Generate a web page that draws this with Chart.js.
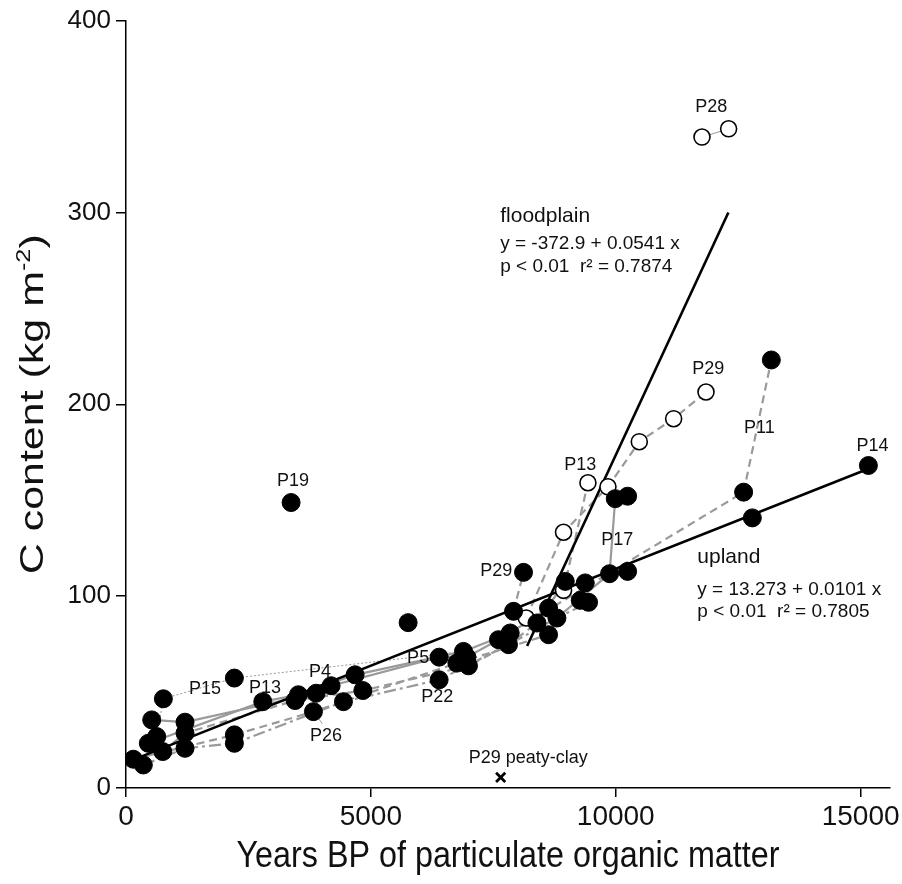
<!DOCTYPE html>
<html><head><meta charset="utf-8">
<script src="https://cdn.jsdelivr.net/npm/chart.js@4.4.1/dist/chart.umd.min.js"></script>
<style>html,body{margin:0;padding:0;background:#fff;}canvas{display:block}</style>
</head><body>
<canvas id="c" width="902" height="884"></canvas>
<script>
// ---- axes ----
const xTicks = [0, 5000, 10000, 15000];
const yTicks = [0, 100, 200, 300, 400];
const xTitle = 'Years BP of particulate organic matter';
const yTitleMain = 'C content (kg m';
const yTitleSup = '-2';
const yTitleEnd = ')';

// ---- upland profiles (filled points) ----
const filledAge = [150,354,456,525,627,750,763,1205,1205,1205,2213,2213,2213,2793,3371,3453,3520,3827,3882,4188,4440,4678,4836,5761,6394,6394,6891,6756,6993,6960,7606,7845,7810,7913,8117,8391,8628,8799,8628,8969,9377,9275,9445,9874,10242,9990,10242,12611,12789,13177,15159];
const filledC   = [15,12,23.3,35.5,26.8,19,46.5,34.3,28.6,20.7,57.3,27.7,23.3,45,148.8,45.6,48.6,39.8,49.4,53.3,45,59,50.8,86.2,68.2,56.4,71.2,65.1,63.7,68.2,77.3,80.8,74.7,92.1,112.4,86,93.8,88.6,79.9,107.7,106.9,97.8,96.8,111.7,112.9,150.8,152.1,154.2,140.8,223.1,168.1];

// ---- floodplain profiles (open points) ----
const openAge = [8172,8934,8934,9432,9841,10481,11182,11843,11761,12305];
const openC   = [88.6,103,133.3,159.1,157,180.5,192.5,206.4,339.3,343.6];

// ---- P29 peaty-clay ----
const peatyAge = [7650];
const peatyC   = [5.5];

// ---- profile connecting lines ----
const p15Age = [627,763,2213,6891];            const p15C = [26.8,46.5,57.3,71.2];
const p13uAge = [456,2793,3520,4678,6891,7845,8628]; const p13uC = [23.3,45,48.6,59,71.2,80.8,93.8];
const p4Age = [525,1205,3882,4188,6394,6960,7606];    const p4C = [35.5,34.3,49.4,53.3,68.2,68.2,77.3];
const p5Age = [750,1205,3453,4836,6993,7810,8391,8969]; const p5C = [19,28.6,45.6,50.8,63.7,74.7,86,107.7];
const p22Age = [354,1205,2213,4440,6394,7810,8799,9445]; const p22C = [12,20.7,23.3,45,56.4,74.7,88.6,96.8];
const p26Age = [150,2213,3827,6756,8628];      const p26C = [15,27.7,39.8,65.1,79.9];
const p17Age = [8799,9874,9990];               const p17C = [88.6,111.7,150.8];
const p29uAge = [7913,8117];                   const p29uC = [92.1,112.4];
const p11Age = [7606,12611,13177];             const p11C = [77.3,154.2,223.1];
const p29fAge = [8172,8934,9841,10481,11182,11843]; const p29fC = [88.6,133.3,157,180.5,192.5,206.4];
const p13fAge = [8934,9432];                   const p13fC = [103,159.1];
const p28Age = [11761,12305];                  const p28C = [339.3,343.6];
const p26LeadAge = [3827,4010];                const p26LeadC = [39.8,33.5];

// ---- regression lines ----
const uplandFitAge = [320,15160]; const uplandFitC = [16.5,166.4];
const floodFitAge = [8190,12300]; const floodFitC = [74,300];

// ---- annotation texts ----
const labelText = ['P28','floodplain','y = -372.9 + 0.0541 x','p < 0.01  r\u00b2 = 0.7874','P29','P11','P14','P13','P19','P17','upland','y = 13.273 + 0.0101 x','p < 0.01  r\u00b2 = 0.7805','P29','P15','P13','P4','P5','P22','P26','P29 peaty-clay'];
const labelAge  = [11952,7641,7641,7641,11890,12932,15241,9275,3412,10031,11666,11666,11666,7559,1614,2840,3963,5965,6354,4086,8213];
const labelC    = [355,298.2,283.6,271.5,218.3,187.5,178.2,168.1,159.8,129.1,120.1,103.4,91.9,113.3,51.7,52.2,60.6,67.9,47.5,27.3,15.7];

const pts = (xs, ys) => xs.map((x, i) => ({x, y: ys[i]}));
const GREY = '#9a9a9a';
function prof(xs, ys, dash, width) {
  return {type:'line', data: pts(xs, ys), borderColor: GREY, borderWidth: width || 2.2, borderDash: dash || [],
    pointRadius: 0, fill: false, tension: 0, order: 5};
}
const FONT = '"Liberation Sans", Arial, sans-serif';

const labelPlugin = {
  id: 'labels',
  beforeDraw(chart) {
    const c = chart.ctx; c.save(); c.fillStyle = '#fff'; c.fillRect(0,0,chart.width,chart.height); c.restore();
  },
  afterDatasetsDraw(chart) {
    const c = chart.ctx, xs = chart.scales.x, ys = chart.scales.y;
    c.save();
    c.fillStyle = '#111';
    c.textBaseline = 'middle';
    labelText.forEach((t, i) => {
      const px = xs.getPixelForValue(labelAge[i]), py = ys.getPixelForValue(labelC[i]);
      let size = 18, align = 'center';
      if (t === 'floodplain' || t === 'upland') { size = 21; align = 'left'; }
      else if (t.startsWith('y =') || t.startsWith('p <')) { size = 19; align = 'left'; }
      c.font = size + 'px ' + FONT;
      c.textAlign = align;
      c.fillText(t, px, py);
    });
    c.restore();
  },
  afterDraw(chart) {
    const c = chart.ctx, area = chart.chartArea;
    // x title (condensed look)
    c.save();
    c.fillStyle = '#111';
    c.font = '37px ' + FONT;
    c.textAlign = 'center'; c.textBaseline = 'alphabetic';
    const w = c.measureText(xTitle).width, sx = 543 / w;
    c.translate((area.left + area.right) / 2, 867);
    c.scale(sx, 1);
    c.fillText(xTitle, 0, 0);
    c.restore();
    // y title with superscript
    c.save();
    c.fillStyle = '#111';
    c.translate(43, (area.top + area.bottom) / 2);
    c.rotate(-Math.PI / 2);
    const f1 = '34px ' + FONT, f2 = '20px ' + FONT;
    c.font = f1; const wa = c.measureText(yTitleMain).width, wb = c.measureText(yTitleEnd).width;
    c.font = f2; const ws = c.measureText(yTitleSup).width;
    const tot = wa + ws + wb, ysx = 340 / tot;
    c.scale(ysx, 1);
    let x0 = -tot / 2;
    c.textBaseline = 'alphabetic'; c.textAlign = 'left';
    c.font = f1; c.fillText(yTitleMain, x0, 0);
    c.font = f2; c.fillText(yTitleSup, x0 + wa, -13);
    c.font = f1; c.fillText(yTitleEnd, x0 + wa + ws, 0);
    c.restore();
  }
};

new Chart(document.getElementById('c'), {
  data: {
    datasets: [
      {type:'scatter', data: pts(filledAge, filledC), pointRadius: 9, pointHoverRadius: 9, pointBackgroundColor:'#000', pointBorderColor:'#000', pointBorderWidth:1, order: 0},
      {type:'scatter', data: pts(openAge, openC), pointRadius: 8, pointHoverRadius: 8, pointBackgroundColor:'#fff', pointBorderColor:'#000', pointBorderWidth:1.6, order: 0},
      {type:'scatter', data: pts(peatyAge, peatyC), pointStyle:'crossRot', pointRadius: 6.5, pointBorderColor:'#000', pointBorderWidth:2.8, order: 0},
      {type:'line', data: pts(uplandFitAge, uplandFitC), borderColor:'#000', borderWidth:2.6, pointRadius:0, order: 2},
      {type:'line', data: pts(floodFitAge, floodFitC), borderColor:'#000', borderWidth:2.6, pointRadius:0, order: 2},
      prof(p15Age, p15C, [2,2], 1),
      prof(p13uAge, p13uC),
      prof(p4Age, p4C),
      prof(p5Age, p5C, [8,5]),
      prof(p22Age, p22C, [12,4,3,4]),
      prof(p26Age, p26C, [8,5]),
      prof(p17Age, p17C),
      prof(p29uAge, p29uC, [8,5]),
      prof(p11Age, p11C, [8,5]),
      prof(p29fAge, p29fC, [8,5]),
      prof(p13fAge, p13fC, [8,5]),
      prof(p28Age, p28C, [], 1),
      prof(p26LeadAge, p26LeadC, [], 1)
    ]
  },
  options: {
    responsive: false, animation: false, devicePixelRatio: 1,
    layout: {padding: {top: 20, right: 12, left: 0, bottom: 0}},
    plugins: {legend: {display: false}, tooltip: {enabled: false}},
    scales: {
      x: {type:'linear', min: 0, max: 15600,
        afterBuildTicks: s => { s.ticks = xTicks.map(v => ({value: v})); },
        afterFit: s => { s.height = 96; s.paddingLeft = 0; s.paddingRight = 0; },
        grid: {display: true, drawOnChartArea: false, drawTicks: true, tickLength: 9, color: '#000', lineWidth: 1.5},
        border: {display: true, color: '#000', width: 1.5},
        ticks: {color:'#111', padding: 3, maxRotation: 0, callback: v => String(v), font: {size: 28, family: FONT}}
      },
      y: {type:'linear', min: 0, max: 400,
        afterBuildTicks: s => { s.ticks = yTicks.map(v => ({value: v})); },
        afterFit: s => { s.width = 126; },
        grid: {display: true, drawOnChartArea: false, drawTicks: true, tickLength: 10, color: '#000', lineWidth: 1.5},
        border: {display: true, color: '#000', width: 1.5},
        ticks: {color:'#111', padding: 5, callback: v => String(v), font: {size: 26, family: FONT}}
      }
    }
  },
  plugins: [labelPlugin]
});
</script>
</body></html>
